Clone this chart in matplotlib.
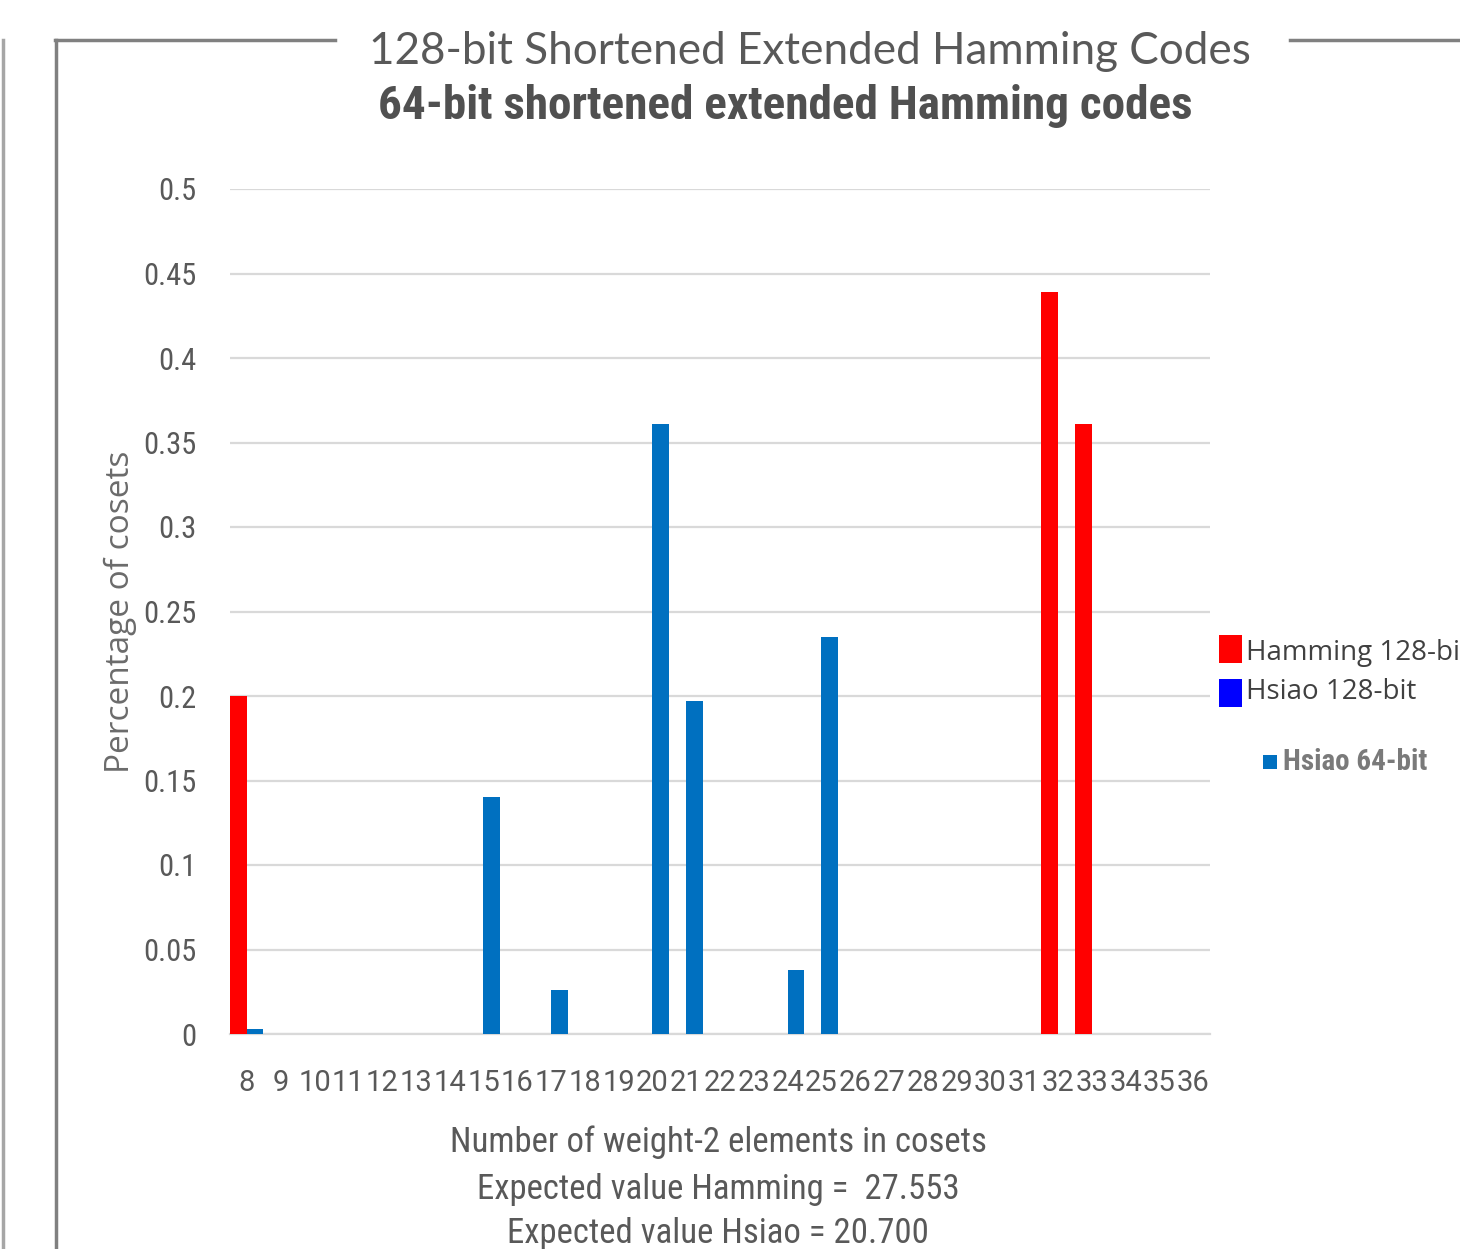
import matplotlib
matplotlib.use("Agg")
import matplotlib.pyplot as plt
from matplotlib import font_manager
from matplotlib.patches import Rectangle
from matplotlib.lines import Line2D
import numpy as np

# ---------------- data ----------------
categories = ["8", "9", "10", "11", "12", "13", "14", "15", "16", "17", "18", "19", "20", "21",
              "22", "23", "24", "25", "26", "27", "28", "29", "30", "31", "32", "33", "34", "35", "36"]
hamming_128 = [0.200, 0, 0, 0, 0, 0, 0, 0, 0, 0, 0, 0, 0, 0,
               0, 0, 0, 0, 0, 0, 0, 0, 0, 0, 0.439, 0.361, 0, 0, 0]
hsiao_64 = [0.003, 0, 0, 0, 0, 0, 0, 0.140, 0, 0.026, 0, 0, 0.361, 0.197,
            0, 0, 0.038, 0.235, 0, 0, 0, 0, 0, 0, 0, 0, 0, 0, 0]
y_ticks = [0, 0.05, 0.1, 0.15, 0.2, 0.25, 0.3, 0.35, 0.4, 0.45, 0.5]
y_tick_labels = ["0", "0.05", "0.1", "0.15", "0.2", "0.25", "0.3", "0.35", "0.4", "0.45", "0.5"]

title_top = "128-bit Shortened Extended Hamming Codes"
title_img = "64-bit shortened extended Hamming codes"
xlabel_lines = ["Number of weight-2 elements in cosets",
                "Expected value Hamming =  27.553",
                "Expected value Hsiao = 20.700"]
ylabel = "Percentage of cosets"
legend_labels = ["Hamming 128-bit", "Hsiao 128-bit", "Hsiao 64-bit"]

# ---------------- fonts ----------------
names = {f.name for f in font_manager.fontManager.ttflist}
def pick(*cands):
    for c in cands:
        if c in names:
            return c
    return "DejaVu Sans"
NARROW = pick("Liberation Sans Narrow", "Roboto Condensed", "DejaVu Sans Condensed", "Liberation Sans")
DIGITS = pick("Roboto", "Liberation Sans", "DejaVu Sans")
CAL = pick("Lato", "Open Sans", "Liberation Sans")
OPEN = pick("Open Sans", "Noto Sans", "DejaVu Sans")

RED = "#FF0000"
BLUE = "#0070C0"
PUREBLUE = "#0000FF"
GRAY = "#595959"

W, H = 1460, 1249
fig = plt.figure(figsize=(W / 100, H / 100), dpi=100)
fig.patch.set_facecolor("white")

def fx(px):
    return px / W
def fy(py):
    return 1 - py / H

ax = fig.add_axes([fx(230), fy(1034), fx(1210) - fx(230), fy(189) - fy(1034)])

x = np.arange(len(categories))
bw = 0.49
ax.bar(x - 0.245, hamming_128, width=bw, color=RED, zorder=3)
ax.bar(x + 0.245, hsiao_64, width=bw, color=BLUE, zorder=3)

ax.set_xlim(-0.5, len(categories) - 0.5)
ax.set_ylim(0, 0.5)
ax.set_yticks(y_ticks)
ax.set_yticklabels(y_tick_labels, family=NARROW, fontsize=22, color=GRAY)
ax.set_xticks(x)
ax.set_xticklabels(categories, family=DIGITS, fontsize=21, color=GRAY)
ax.tick_params(axis="y", length=0, pad=24)
ax.tick_params(axis="x", length=0, pad=25)
ax.grid(axis="y", color="#D9D9D9", linewidth=1.6, zorder=0)
for s in ["top", "right", "left"]:
    ax.spines[s].set_visible(False)
ax.spines["bottom"].set_color("#D9D9D9")
ax.spines["bottom"].set_linewidth(1.6)
ax.set_axisbelow(True)

# y label
fig.text(fx(120), fy(612), ylabel, rotation=90, ha="center", va="center",
         family=OPEN, fontsize=24, color="#6b6b6b")

# x label lines
for txt, py in zip(xlabel_lines, [1142, 1190, 1234]):
    fig.text(fx(718), fy(py), txt, ha="center", va="center", family=NARROW,
             fontsize=25, color=GRAY)

# titles
fig.text(fx(810), fy(52), title_top, ha="center", va="center", family=CAL,
         fontsize=31.7, color=GRAY)
fig.text(fx(785), fy(106), title_img, ha="center", va="center", family=NARROW,
         fontsize=34, fontweight="bold", color="#505050")

# frame lines
fig.add_artist(Line2D([fx(3), fx(3)], [fy(40), fy(1249)], color="#A6A6A6", linewidth=2.5))
fig.add_artist(Line2D([fx(56), fx(56)], [fy(40), fy(1249)], color="#808080", linewidth=2.5))
fig.add_artist(Line2D([fx(55), fx(335)], [fy(40), fy(40)], color="#808080", linewidth=2.5))
fig.add_artist(Line2D([fx(1290), fx(1460)], [fy(40), fy(40)], color="#808080", linewidth=2.5))

# legend (manual)
fig.add_artist(Rectangle((fx(1219), fy(663)), fx(23), fy(635) - fy(663),
                         facecolor=RED, edgecolor="none", transform=fig.transFigure))
fig.text(fx(1246), fy(653), legend_labels[0], ha="left", va="center", family=OPEN,
         fontsize=20, color="#404040")
fig.add_artist(Rectangle((fx(1219), fy(707)), fx(23), fy(679) - fy(707),
                         facecolor=PUREBLUE, edgecolor="none", transform=fig.transFigure))
fig.text(fx(1246), fy(692), legend_labels[1], ha="left", va="center", family=OPEN,
         fontsize=20, color="#404040")
fig.add_artist(Rectangle((fx(1263), fy(769)), fx(14), fy(755) - fy(769),
                         facecolor=BLUE, edgecolor="none", transform=fig.transFigure))
fig.text(fx(1283), fy(762), legend_labels[2], ha="left", va="center", family=NARROW,
         fontsize=21, fontweight="bold", color="#7a7a7a")

fig.savefig("out.png", dpi=100)
